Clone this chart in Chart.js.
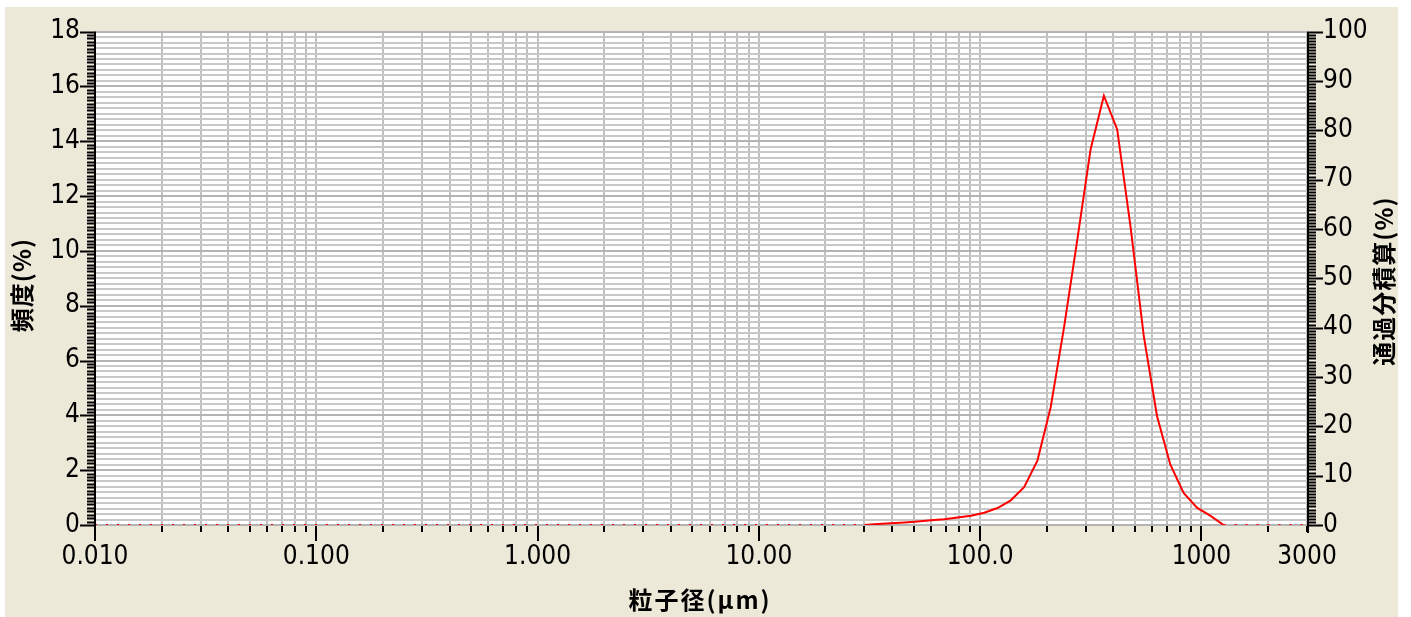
<!DOCTYPE html>
<html>
<head>
<meta charset="utf-8">
<script src="https://cdn.jsdelivr.net/npm/chart.js@4.4.1/dist/chart.umd.min.js"></script>
<style>
  html, body { margin: 0; padding: 0; background: #ffffff; }
  #wrap { width: 1411px; height: 617px; }
</style>
</head>
<body>
<div id="wrap"><canvas id="psd" width="1411" height="617"></canvas></div>
<script>
// particle size (um) and frequency (%)
const sizeBins = [0.01, 30.04, 34.50, 39.62, 45.50, 52.25, 60.00, 68.89, 79.12, 90.86,
  104.3, 119.8, 137.6, 158.0, 181.5, 208.4, 239.3, 274.8, 315.6, 362.4,
  416.2, 477.9, 548.8, 630.2, 723.7, 831.1, 954.3, 1096, 1259, 3000];
const frequency = [0, 0, 0.04, 0.06, 0.09, 0.13, 0.17, 0.21, 0.27, 0.34,
  0.45, 0.62, 0.90, 1.38, 2.35, 4.3, 7.2, 10.4, 13.7, 15.66,
  14.43, 10.9, 6.9, 3.97, 2.2, 1.17, 0.63, 0.34, 0, 0];

const xTickValues = [0.01, 0.1, 1, 10, 100, 1000, 3000];
const xTickLabels = ['0.010', '0.100', '1.000', '10.00', '100.0', '1000', '3000'];
const decades = [0.01, 0.1, 1, 10, 100, 1000];
const leftTicks = [0, 2, 4, 6, 8, 10, 12, 14, 16, 18];
const rightTicks = [0, 10, 20, 30, 40, 50, 60, 70, 80, 90, 100];

const xTitle = '粒子径(μm)';
const leftTitle = '頻度(%)';
const rightTitle = '通過分積算(%)';

const tickFont = { family: "'Liberation Sans Narrow', 'DejaVu Sans Condensed', sans-serif", size: 26 };
const titleFont = "bold 24px 'Noto Sans CJK JP', sans-serif";

// gridline positions: 1..9 x each decade up to 3000
const xGrid = [];
decades.forEach((d) => {
  for (let m = 1; m <= 9; m++) {
    const v = d * m;
    if (v <= 3000) xGrid.push(v);
  }
});
const yGrid = [];
for (let i = 0; i <= 90; i++) yGrid.push(Math.round(i * 2) / 10);

const near = (a, b) => Math.abs(a - b) < 1e-9 * Math.max(1, Math.abs(b));

const framePlugin = {
  id: 'frame',
  beforeDraw(chart) {
    const { ctx, chartArea: a } = chart;
    ctx.save();
    ctx.fillStyle = '#ffffff';
    ctx.fillRect(0, 0, chart.width, chart.height);
    ctx.fillStyle = '#ECE9D8';
    ctx.fillRect(5, 7, 1393, 610);
    ctx.fillStyle = '#ffffff';
    ctx.fillRect(a.left, a.top, a.right - a.left, a.bottom - a.top + 1);
    ctx.restore();
  },
  afterDraw(chart) {
    const { ctx, chartArea: a } = chart;
    const x = chart.scales.x, y = chart.scales.y, y2 = chart.scales.y2;
    ctx.save();
    ctx.strokeStyle = '#000000';
    ctx.lineWidth = 2;
    ctx.beginPath();
    // axis lines
    ctx.moveTo(a.left, a.top); ctx.lineTo(a.left, a.bottom + 16);
    ctx.moveTo(a.right + 1, a.top); ctx.lineTo(a.right + 1, a.bottom + 8);
    // left ticks
    for (let v = 0; v <= 18.0001; v += 0.125) {
      const py = Math.round(y.getPixelForValue(v)) + 0.5;
      const major = leftTicks.some((t) => near(t, v));
      ctx.moveTo(major ? a.left - 15 : a.left - 8, py);
      ctx.lineTo(a.left, py);
    }
    // right ticks
    for (let v = 0; v <= 100.0001; v += 0.625) {
      const py = Math.round(y2.getPixelForValue(v)) + 0.5;
      const major = rightTicks.some((t) => near(t, v));
      ctx.moveTo(a.right + 1, py);
      ctx.lineTo(major ? a.right + 16 : a.right + 9, py);
    }
    // bottom ticks
    xGrid.forEach((v) => {
      const px = Math.round(x.getPixelForValue(v));
      const major = decades.some((d) => near(d, v));
      ctx.moveTo(px, a.bottom + 1);
      ctx.lineTo(px, a.bottom + (major ? 16 : 7));
    });
    ctx.stroke();

    // axis titles
    ctx.fillStyle = '#000000';
    ctx.font = titleFont;
    ctx.textAlign = 'center';
    ctx.textBaseline = 'middle';
    ctx.letterSpacing = '2px';
    ctx.fillText(xTitle, 700, 600);
    ctx.letterSpacing = '1px';
    ctx.save();
    ctx.translate(22, 285);
    ctx.rotate(-Math.PI / 2);
    ctx.fillText(leftTitle, 0, 0);
    ctx.restore();
    ctx.save();
    ctx.translate(1384, 281);
    ctx.rotate(-Math.PI / 2);
    ctx.fillText(rightTitle, 0, 0);
    ctx.restore();
    ctx.restore();
  }
};

new Chart(document.getElementById('psd'), {
  type: 'line',
  data: {
    datasets: [{
      label: 'frequency',
      data: sizeBins.map((s, i) => ({ x: s, y: frequency[i] })),
      borderColor: '#FF0000',
      borderWidth: 2,
      pointRadius: 0,
      tension: 0,
      fill: false,
      segment: {
        borderDash: (ctx) => (ctx.p0.parsed.y === 0 && ctx.p1.parsed.y === 0 ? [2, 9] : undefined)
      }
    }]
  },
  options: {
    responsive: false,
    animation: false,
    layout: { padding: { top: 30, left: 0, right: 0, bottom: 0 } },
    plugins: { legend: { display: false }, tooltip: { enabled: false } },
    scales: {
      x: {
        type: 'logarithmic',
        min: 0.01,
        max: 3000,
        afterBuildTicks: (scale) => { scale.ticks = xGrid.map((v) => ({ value: v })); },
        afterFit: (scale) => { scale.height = 92; },
        border: { display: false },
        grid: { color: '#C0C0C0', lineWidth: 2, drawTicks: false },
        ticks: {
          autoSkip: false,
          maxRotation: 0,
          padding: 17,
          color: '#000000',
          font: tickFont,
          callback: (value) => {
            const i = xTickValues.findIndex((t) => near(t, value));
            return i >= 0 ? xTickLabels[i] : '';
          }
        }
      },
      y: {
        position: 'left',
        min: 0,
        max: 18,
        afterBuildTicks: (scale) => { scale.ticks = yGrid.map((v) => ({ value: v })); },
        afterFit: (scale) => { scale.width = 95; },
        border: { display: false },
        grid: {
          drawTicks: false,
          lineWidth: 2,
          color: (ctx) => (leftTicks.some((t) => near(t, ctx.tick.value)) ? '#B4B4B4' : '#C8C8C8')
        },
        ticks: {
          autoSkip: false,
          padding: 15,
          color: '#000000',
          font: tickFont,
          callback: (value) => (leftTicks.some((t) => near(t, value)) ? String(Math.round(value)) : '')
        }
      },
      y2: {
        position: 'right',
        min: 0,
        max: 100,
        afterBuildTicks: (scale) => { scale.ticks = rightTicks.map((v) => ({ value: v })); },
        afterFit: (scale) => { scale.width = 104; },
        border: { display: false },
        grid: { display: false, drawTicks: false },
        ticks: {
          autoSkip: false,
          padding: 16,
          color: '#000000',
          font: tickFont,
          callback: (value) => String(value)
        }
      }
    }
  },
  plugins: [framePlugin]
});
</script>
</body>
</html>
